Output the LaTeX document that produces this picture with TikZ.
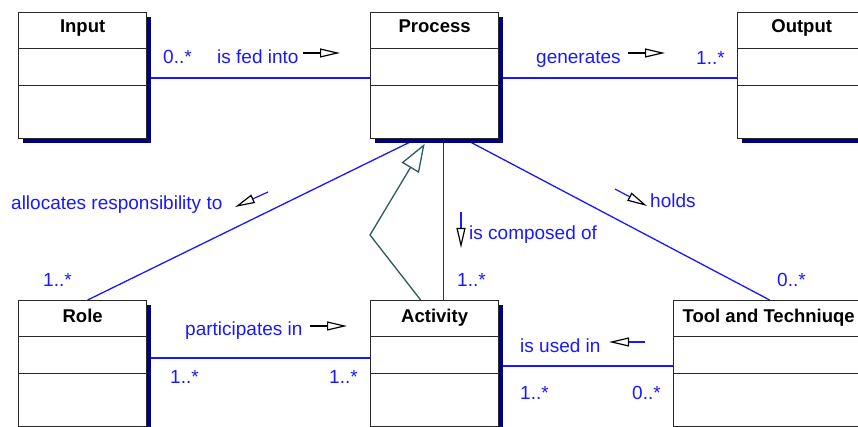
\documentclass[tikz,border=0pt]{standalone}
\usepackage{fontspec}
\setmainfont{Liberation Sans}
\usetikzlibrary{arrows.meta,shadows,calc}
\definecolor{umlblue}{RGB}{25,25,255}
\definecolor{shadownavy}{RGB}{0,0,128}
\definecolor{genteal}{RGB}{45,90,90}
\definecolor{boxline}{RGB}{40,40,40}
\pgfdeclarelayer{background}
\pgfsetlayers{background,main}
\begin{document}
\begin{tikzpicture}[x=1pt,y=-1pt,
  box/.style={draw=boxline, line width=1.3pt, fill=white, minimum width=128pt, minimum height=126pt, inner sep=0pt, anchor=north west,
    drop shadow={shadow xshift=4.5pt, shadow yshift=-4.5pt, fill=shadownavy, opacity=1}},
  title/.style={font=\fontsize{18.5}{20}\selectfont\bfseries, text=black, inner sep=0pt, anchor=base},
  lbl/.style={font=\fontsize{19}{21}\selectfont, text=umlblue, inner sep=0pt, anchor=base west},
  assoc/.style={draw=umlblue, line width=1.3pt},
  divider/.style={draw=boxline, line width=1.3pt},
  gen/.style={draw=genteal, line width=1.3pt, -{Triangle[open, length=28pt, width=20pt]}},
  dirmark/.style={line width=1.2pt, -{Triangle[open, length=20pt, width=9pt, color=black]}}
]
\useasboundingbox (0,0) rectangle (858,427);
\clip (0,0) rectangle (858,427);

% boxes
\node[box] (input) at (18,12) {};
\node[box] (process) at (370,12) {};
\node[box] (output) at (737,12) {};
\node[box] (role) at (18,300) {};
\node[box] (activity) at (370,300) {};
\node[box, minimum width=190pt] (tool) at (673,300) {};

\foreach \b in {input,process,output,role,activity,tool}{
  \draw[divider] ([yshift=-36.5pt]\b.north west) -- ([yshift=-36.5pt]\b.north east);
  \draw[divider] ([yshift=-73.5pt]\b.north west) -- ([yshift=-73.5pt]\b.north east);
}

% titles
\node[title] (inputT) at ([yshift=-21pt]input.north) {Input};
\node[title] (processT) at ([yshift=-21pt]process.north) {Process};
\node[title] (outputT) at ([yshift=-21pt]output.north) {Output};
\node[title] (roleT) at ([yshift=-22pt]role.north) {Role};
\node[title] (activityT) at ([yshift=-22pt]activity.north) {Activity};
\node[title] (toolT) at ([yshift=-22pt]tool.north) {Tool and Techniuqe};

% connectors
\coordinate (gbend) at (370,235);
\begin{pgfonlayer}{background}
\draw[assoc] (input.east |- 0,78) -- (process.west |- 0,78);
\draw[assoc] (process.east |- 0,78) -- (output.west |- 0,78);
\draw[assoc] (role.east |- 0,358) -- (activity.west |- 0,358);
\draw[assoc] (activity.east |- 0,366) -- (tool.west |- 0,366);
\draw[assoc] ([xshift=5pt]role.north) -- ([xshift=-19pt]process.south);
\draw[assoc] ([xshift=9pt]process.south) -- ([xshift=9pt]activity.north);
\draw[assoc] ([xshift=30.5pt]process.south) -- ([xshift=1pt]tool.north);
\draw[gen] ([xshift=-14pt]activity.north) -- (gbend) -- ([xshift=-10pt,yshift=-4.5pt]process.south);
\end{pgfonlayer}

% labels
\node[lbl] (m1) at (163,64) {0..*};
\node[lbl] (l1) at (217,64) {is fed into};
\node[lbl] (l2) at (536,63.5) {generates};
\node[lbl] (m2) at (696,65) {1..*};
\node[lbl] (l3) at (11,210) {allocates responsibility to};
\node[lbl] (m3) at (43,287) {1..*};
\node[lbl] (l4) at (650,208) {holds};
\node[lbl] (l5) at (469,240) {is composed of};
\node[lbl] (m4) at (457,287) {1..*};
\node[lbl] (m5) at (777,287) {0..*};
\node[lbl] (l6) at (185,335) {participates in};
\node[lbl] (m6) at (170,383) {1..*};
\node[lbl] (m7) at (329,383) {1..*};
\node[lbl] (l7) at (520,352) {is used in};
\node[lbl] (m8) at (520,399) {1..*};
\node[lbl] (m9) at (632,399) {0..*};

% direction markers
\draw[dirmark, draw=black] (303,53) -- (340,53);
\draw[dirmark, draw=black] (628,53) -- (665,53);
\draw[dirmark, draw=black] (310,326) -- (347,326);
\draw[dirmark, draw=umlblue] (645,342) -- (609,342);
\draw[dirmark, draw=umlblue] (268,192) -- (235,207);
\draw[dirmark, draw=umlblue] (615,189) -- (647,206);
\draw[dirmark, draw=umlblue] (461,212) -- (461,248);
\end{tikzpicture}
\end{document}
